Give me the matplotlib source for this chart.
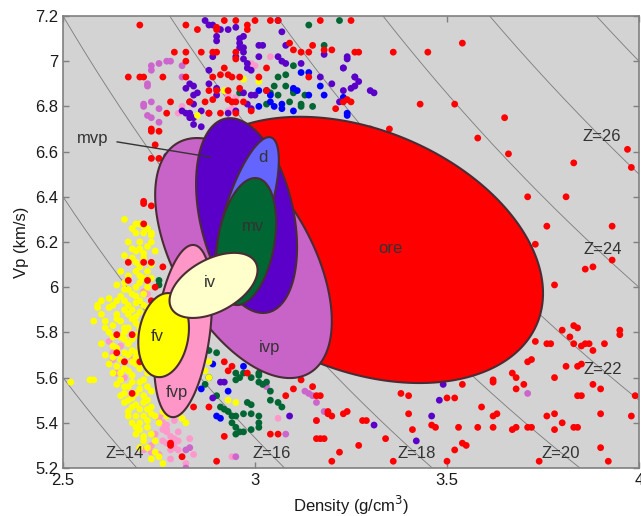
import matplotlib
matplotlib.use("Agg")
import matplotlib.pyplot as plt
import numpy as np
from matplotlib.ticker import FuncFormatter

plt.rcParams['font.family'] = ['Liberation Sans', 'DejaVu Sans']

# iso-impedance lines Z = density * Vp
z_values = [14, 16, 18, 20, 22, 24, 26, 28]
z_labels = ['Z=14', 'Z=16', 'Z=18', 'Z=20', 'Z=22', 'Z=24', 'Z=26']
z_label_rho = [2.661, 3.044, 3.422, 3.797, 3.906, 3.906, 3.902]
z_label_vp = [5.266, 5.266, 5.266, 5.266, 5.634, 6.169, 6.669]

# rock fields: centre, half ranges and skew angle (deg)
fields = ['ore', 'ivp', 'mvp', 'd', 'mv', 'fvp', 'fv', 'iv']
field_colors = ['#ff0000', '#c864c8', '#5a00c8', '#6464ff', '#006633', '#ff96c8', '#ffff00', '#ffffcc']
field_cx = [3.273, 2.970, 2.978, 2.979, 2.977, 2.8125, 2.762, 2.892]
field_a = [0.477, 0.230, 0.1315, 0.083, 0.078, 0.0755, 0.066, 0.1146]
field_cy = [6.165, 6.129, 6.317, 6.328, 6.202, 5.806, 5.788, 6.008]
field_b = [0.589, 0.531, 0.431, 0.336, 0.281, 0.381, 0.186, 0.144]
field_phi = [109, 121.7, 109, 46, 72.5, 69.8, 80, 62]
label_rho = [3.352, 3.039, 2.578, 3.021, 2.995, 2.797, 2.745, 2.883]
label_vp = [6.173, 5.735, 6.66, 6.572, 6.27, 5.536, 5.78, 6.023]
mvp_pointer_rho = [2.641, 2.883]
mvp_pointer_vp = [6.643, 6.576]

# sample points (density, Vp)
red_pts = [(2.70, 7.16), (2.82, 7.16), (2.85, 7.14), (2.90, 7.15), (2.90, 7.14), (2.92, 7.18),
           (2.95, 7.18), (2.98, 7.16), (2.98, 7.14), (3.00, 7.18), (3.04, 7.18), (3.06, 7.18),
           (3.17, 7.18), (3.25, 7.18), (2.79, 7.04), (2.82, 7.04), (2.82, 7.00), (2.86, 7.04),
           (2.89, 7.04), (2.90, 7.04), (2.67, 6.93), (2.70, 6.93), (2.71, 6.93), (2.76, 6.93),
           (2.82, 6.93), (2.89, 6.93), (2.91, 6.94), (2.93, 6.94), (2.94, 6.93), (2.96, 6.93),
           (2.92, 6.97), (2.95, 7.01), (2.95, 7.04), (3.01, 6.93), (3.03, 6.97), (3.09, 7.08),
           (3.10, 7.05), (3.12, 7.04), (3.14, 7.04), (3.15, 7.07), (3.18, 7.05), (3.20, 7.05),
           (3.14, 6.93), (2.78, 6.82), (2.83, 6.82), (2.88, 6.87), (2.90, 6.87), (2.93, 6.87),
           (2.96, 6.88), (2.87, 6.82), (2.89, 6.83), (2.93, 6.83), (2.94, 6.82), (2.95, 6.82),
           (2.97, 6.82), (2.77, 6.77), (2.88, 6.77), (2.91, 6.77), (2.95, 6.77), (2.99, 6.78),
           (2.73, 6.69), (2.75, 6.69), (3.03, 6.87), (3.23, 6.82), (3.25, 6.82), (3.21, 6.79),
           (2.71, 6.38), (2.74, 6.63), (2.73, 6.57), (2.75, 6.57), (2.73, 6.70), (2.73, 6.36),
           (3.26, 7.04), (3.27, 7.04), (3.36, 7.04), (3.45, 7.04), (3.54, 7.08), (3.24, 6.83),
           (3.43, 6.81), (3.52, 6.81), (3.35, 6.70), (3.30, 6.70), (3.65, 6.75), (3.58, 6.66),
           (3.66, 6.59), (3.83, 6.55), (3.97, 6.61), (3.98, 6.53), (3.71, 6.40), (3.81, 6.40),
           (3.76, 6.27), (3.93, 6.27), (3.73, 6.19), (3.86, 6.08), (3.88, 6.09), (3.93, 6.12),
           (3.78, 6.01), (3.80, 5.81), (3.82, 5.78), (3.83, 5.83), (3.84, 5.82), (3.73, 5.76),
           (3.76, 5.75), (3.77, 5.75), (3.83, 5.75), (3.85, 5.74), (3.86, 5.75), (3.87, 5.75),
           (3.88, 5.72), (3.91, 5.75), (3.95, 5.81), (3.95, 5.79), (3.71, 5.67), (3.72, 5.68),
           (3.81, 5.65), (3.84, 5.65), (3.85, 5.66), (3.67, 5.62), (3.68, 5.60), (3.62, 5.59),
           (3.62, 5.58), (3.70, 5.57), (3.78, 5.60), (3.88, 5.57), (3.90, 5.55), (3.84, 5.52),
           (3.85, 5.52), (3.99, 5.52), (3.68, 5.55), (3.54, 5.57), (3.50, 5.51), (3.52, 5.51),
           (3.38, 5.53), (3.40, 5.52), (3.23, 5.44), (3.40, 5.44), (3.46, 5.39), (3.47, 5.38),
           (3.53, 5.38), (3.58, 5.38), (3.62, 5.38), (3.67, 5.37), (3.68, 5.38), (3.71, 5.38),
           (3.72, 5.38), (3.76, 5.43), (3.78, 5.44), (3.80, 5.40), (3.83, 5.38), (3.84, 5.38),
           (3.78, 5.37), (3.90, 5.44), (3.98, 5.43), (3.59, 5.47), (3.62, 5.43), (3.63, 5.44),
           (3.29, 5.41), (3.34, 5.33), (3.41, 5.37), (3.52, 5.28), (3.54, 5.31), (3.55, 5.30),
           (3.36, 5.23), (3.50, 5.23), (3.74, 5.23), (3.90, 5.29), (3.92, 5.23), (3.12, 5.59),
           (3.10, 5.55), (3.15, 5.56), (3.16, 5.52), (3.17, 5.52), (3.08, 5.52), (3.19, 5.45),
           (3.19, 5.44), (3.20, 5.43), (3.24, 5.45), (3.28, 5.41), (3.16, 5.41), (3.04, 5.35),
           (3.06, 5.35), (3.16, 5.33), (3.17, 5.33), (3.18, 5.33), (3.22, 5.27), (3.20, 5.23),
           (3.27, 5.30), (2.92, 5.34), (2.81, 5.25), (2.90, 5.23), (2.78, 5.31), (2.84, 5.47),
           (2.88, 5.47), (2.93, 5.63), (2.94, 5.65), (2.92, 5.67), (2.98, 5.62), (2.71, 6.37),
           (2.71, 6.28), (2.67, 6.11), (2.71, 6.11), (2.73, 6.11), (2.67, 6.03), (2.72, 6.03),
           (2.74, 6.00), (2.76, 6.09), (2.64, 5.79), (2.68, 5.79), (2.64, 5.71), (2.66, 5.67),
           (2.70, 5.67), (2.73, 5.94), (2.68, 5.53), (2.78, 5.30)]

purple_pts = [(2.87, 7.18), (2.88, 7.16), (2.89, 7.16), (2.91, 7.14), (2.93, 7.14), (2.95, 7.15),
              (2.90, 7.11), (2.90, 7.09), (2.96, 7.10), (2.96, 7.08), (2.97, 7.11), (2.96, 7.06),
              (2.97, 7.06), (2.97, 7.04), (3.01, 7.07), (3.02, 7.07), (3.06, 7.18), (3.07, 7.13),
              (3.08, 7.07), (2.95, 7.02), (2.97, 7.01), (3.01, 7.02), (2.89, 7.02), (2.98, 6.99),
              (2.98, 6.97), (3.06, 7.02), (3.07, 7.00), (3.08, 6.99), (3.12, 6.99), (2.88, 6.96),
              (2.99, 6.96), (3.18, 7.03), (3.24, 7.02), (3.23, 6.97), (3.17, 6.93), (3.26, 6.93),
              (3.25, 6.88), (2.83, 6.90), (2.82, 6.88), (2.84, 6.89), (2.84, 6.85), (2.85, 6.86),
              (2.83, 6.82), (2.84, 6.81), (2.81, 6.78), (2.82, 6.77), (2.84, 6.75), (2.84, 6.72),
              (2.86, 6.71), (2.88, 6.90), (2.90, 6.88), (2.90, 6.85), (2.97, 6.86), (2.99, 6.85),
              (3.00, 6.85), (2.86, 6.78), (2.88, 6.77), (2.98, 6.81), (2.99, 6.79), (2.93, 6.77),
              (2.95, 6.78), (3.20, 6.90), (3.22, 6.82), (2.83, 6.77), (2.83, 6.75), (2.77, 6.58),
              (3.24, 7.01), (3.23, 6.97), (3.26, 6.93), (3.27, 6.91), (3.26, 6.89), (3.23, 6.87),
              (3.30, 6.87), (3.31, 6.86), (3.49, 5.57), (3.48, 5.50), (3.46, 5.43), (3.42, 5.32),
              (3.31, 5.39), (2.91, 5.58), (2.92, 5.58), (2.89, 5.51), (3.09, 5.43)]

blue_pts = [(3.01, 6.87), (3.03, 6.87), (3.04, 6.85), (3.12, 6.95), (3.14, 6.95), (3.07, 6.81),
            (3.07, 6.79), (3.10, 6.88), (3.11, 6.87), (3.14, 6.85), (3.17, 6.89), (3.18, 6.85),
            (3.04, 6.82), (3.05, 6.80), (3.10, 6.78), (3.24, 6.77), (3.01, 6.80), (3.23, 6.84),
            (3.24, 6.76), (2.93, 5.54), (2.90, 5.43), (2.91, 5.42), (2.89, 5.66), (2.86, 5.55),
            (2.97, 5.65)]

green_pts = [(3.14, 7.16), (3.22, 7.18), (3.18, 7.07), (3.10, 6.98), (3.06, 6.93), (3.08, 6.94),
             (3.05, 6.89), (3.08, 6.89), (3.04, 6.86), (3.06, 6.85), (3.10, 6.86), (3.10, 6.87),
             (3.13, 6.85), (3.12, 6.81), (3.12, 6.80), (3.15, 6.80), (3.09, 6.82), (3.03, 6.81),
             (2.96, 6.86), (2.88, 5.72), (2.88, 5.60), (2.87, 5.57), (2.90, 5.52), (2.91, 5.47),
             (2.92, 5.46), (2.93, 5.45), (2.95, 5.62), (2.95, 5.59), (2.96, 5.60), (2.97, 5.62),
             (2.99, 5.60), (3.01, 5.61), (3.01, 5.62), (3.01, 5.58), (3.02, 5.57), (3.03, 5.58),
             (3.04, 5.54), (3.04, 5.50), (3.06, 5.49), (3.07, 5.47), (2.98, 5.49), (2.99, 5.48),
             (2.94, 5.43), (2.95, 5.43), (2.94, 5.40), (2.95, 5.38), (2.97, 5.44), (2.99, 5.44),
             (3.01, 5.43), (3.01, 5.40), (3.01, 5.38), (2.99, 5.37), (2.97, 5.36), (2.96, 5.36),
             (2.95, 5.35), (2.90, 5.71), (2.75, 6.03), (2.75, 6.01)]

orchid_pts = [(2.73, 6.98), (2.75, 6.99), (2.77, 7.00), (2.78, 7.00), (2.81, 6.98), (2.73, 6.96),
              (2.72, 6.90), (2.81, 6.93), (2.73, 6.82), (2.71, 6.81), (2.75, 6.79), (2.72, 6.76),
              (2.73, 6.75), (2.75, 6.73), (2.71, 6.80), (2.72, 6.89), (3.13, 5.54), (3.14, 5.53),
              (3.16, 5.49), (3.18, 5.45), (3.16, 5.41), (3.08, 5.35), (2.83, 5.29), (2.82, 5.28),
              (2.95, 5.25), (3.03, 5.56), (3.71, 5.53), (3.15, 5.52), (2.82, 5.20)]

pink_pts = [(2.75, 5.42), (2.76, 5.40), (2.77, 5.39), (2.76, 5.37), (2.77, 5.36), (2.79, 5.33),
            (2.76, 5.32), (2.73, 5.30), (2.73, 5.27), (2.78, 5.28), (2.79, 5.29), (2.62, 5.76),
            (2.63, 5.71), (2.63, 5.68), (2.65, 5.74), (2.71, 5.98), (2.72, 5.97), (2.77, 5.37),
            (2.78, 5.34), (2.79, 5.31), (2.80, 5.28), (2.81, 5.25), (3.06, 5.42), (2.94, 5.25),
            (2.99, 6.99), (3.00, 6.98), (3.04, 7.02), (2.93, 6.78), (2.94, 6.79), (2.81, 6.80),
            (2.80, 6.77), (2.93, 6.85), (2.95, 6.84), (2.74, 5.35), (2.77, 5.31), (2.80, 5.32),
            (2.75, 5.26), (2.78, 5.24), (2.82, 5.22), (2.80, 5.36), (2.76, 5.44), (2.79, 5.41),
            (2.83, 5.33), (2.71, 5.28), (2.84, 5.26), (2.66, 5.60), (2.64, 5.62), (2.68, 5.68)]

yellow_pts = [(2.52, 5.58), (2.57, 5.59), (2.58, 5.59), (2.59, 5.92), (2.60, 5.94), (2.59, 5.91),
              (2.61, 5.82), (2.62, 5.91), (2.64, 5.94), (2.66, 5.99), (2.69, 6.28), (2.70, 6.28),
              (2.71, 6.27), (2.69, 6.24), (2.71, 6.24), (2.68, 6.17), (2.69, 6.16), (2.70, 6.17),
              (2.71, 6.15), (2.73, 6.23), (2.73, 6.24), (2.69, 6.07), (2.70, 6.05), (2.71, 6.04),
              (2.70, 6.02), (2.69, 6.00), (2.68, 5.97), (2.66, 5.94), (2.67, 5.92), (2.68, 5.90),
              (2.67, 5.88), (2.68, 5.86), (2.69, 5.84), (2.67, 5.82), (2.65, 5.85), (2.66, 5.82),
              (2.66, 5.77), (2.67, 5.75), (2.68, 5.72), (2.69, 5.69), (2.69, 5.66), (2.67, 5.63),
              (2.64, 5.65), (2.65, 5.62), (2.65, 5.59), (2.66, 5.56), (2.66, 5.53), (2.67, 5.50),
              (2.68, 5.47), (2.67, 5.45), (2.69, 5.43), (2.70, 5.40), (2.70, 5.37), (2.71, 5.32),
              (2.72, 5.29), (2.74, 5.27), (2.75, 5.25), (2.71, 5.59), (2.72, 5.56), (2.73, 5.54),
              (2.72, 5.50), (2.73, 5.47), (2.73, 5.44), (2.71, 5.49), (2.70, 5.94), (2.71, 5.97),
              (2.72, 5.91), (2.72, 5.89), (2.71, 5.85), (2.70, 5.82), (2.71, 5.80), (2.72, 5.75),
              (2.71, 5.71), (2.71, 5.66), (2.72, 5.62), (2.73, 6.20), (2.74, 6.16), (2.77, 5.43),
              (2.75, 5.40), (2.86, 5.71), (2.88, 5.67), (2.86, 5.63), (2.88, 5.60), (2.87, 5.63),
              (2.93, 5.50), (2.95, 5.49), (2.74, 5.43), (2.76, 5.45), (2.81, 5.42), (2.82, 5.40),
              (3.01, 6.91), (2.97, 6.92), (2.92, 6.87), (2.85, 6.76), (2.68, 6.13), (2.70, 6.09),
              (2.72, 6.07), (2.66, 6.02), (2.69, 5.96), (2.71, 5.92), (2.64, 5.88), (2.63, 5.83),
              (2.62, 5.80), (2.65, 5.78), (2.63, 5.74), (2.67, 5.70), (2.65, 5.68), (2.62, 5.66),
              (2.68, 5.58), (2.69, 5.53), (2.70, 5.46), (2.72, 5.41), (2.73, 5.35), (2.69, 5.38),
              (2.66, 6.30), (2.68, 6.26), (2.72, 6.26), (2.67, 6.20), (2.70, 6.20), (2.72, 6.18),
              (2.66, 6.14), (2.69, 6.11), (2.71, 6.13), (2.73, 6.10), (2.65, 6.07), (2.67, 6.05),
              (2.73, 6.04), (2.64, 6.01), (2.67, 5.99), (2.72, 6.00), (2.65, 5.96), (2.69, 5.93),
              (2.63, 5.92), (2.66, 5.90), (2.70, 5.89), (2.64, 5.86), (2.69, 5.87), (2.61, 5.85),
              (2.66, 5.80), (2.69, 5.79), (2.63, 5.78), (2.68, 5.77), (2.64, 5.73), (2.70, 5.74),
              (2.66, 5.71), (2.69, 5.71), (2.63, 5.69), (2.68, 5.67), (2.70, 5.64), (2.66, 5.64),
              (2.63, 5.62), (2.68, 5.61), (2.70, 5.58), (2.64, 5.57), (2.67, 5.56), (2.70, 5.55),
              (2.65, 5.52), (2.68, 5.51), (2.71, 5.52), (2.66, 5.49), (2.69, 5.48), (2.72, 5.46),
              (2.67, 5.43), (2.71, 5.43), (2.68, 5.40), (2.72, 5.38), (2.69, 5.35), (2.71, 5.34),
              (2.74, 5.32), (2.70, 5.29), (2.73, 5.24), (2.76, 5.22), (2.60, 5.88), (2.62, 5.95),
              (2.58, 5.85), (2.61, 5.70), (2.60, 5.75)]

point_sets = [(pink_pts, '#ff99cc'), (orchid_pts, '#cc66cc'), (green_pts, '#006633'),
              (blue_pts, '#0000ff'), (purple_pts, '#5a00c8'), (yellow_pts, '#ffff00'),
              (red_pts, '#ff0000')]

fig = plt.figure(figsize=(6.41, 5.16), dpi=100)
ax = fig.add_axes([0.0983, 0.093, 0.8986, 0.876])
ax.set_facecolor('#d3d3d3')

rho = np.linspace(2.5, 4.0, 300)
for z in z_values:
    ax.plot(rho, z / rho, color='#7a7a7a', linewidth=0.6, zorder=1)
for txt, x, y in zip(z_labels, z_label_rho, z_label_vp):
    ax.text(x, y, txt, fontsize=12, color='#333333', ha='center', va='center', zorder=6)

for pts, col in point_sets:
    arr = np.array(pts)
    ax.scatter(arr[:, 0], arr[:, 1], s=24, color=col, edgecolors='none', zorder=2)

t = np.linspace(0, 2 * np.pi, 300)
for i, name in enumerate(fields):
    phi = np.radians(field_phi[i])
    ex = field_cx[i] + field_a[i] * np.cos(t)
    ey = field_cy[i] + field_b[i] * np.cos(t - phi)
    ax.fill(ex, ey, facecolor=field_colors[i], edgecolor='#4a2c34', linewidth=1.5, zorder=3 + i * 0.1)
    ax.text(label_rho[i], label_vp[i], name, fontsize=12, color='#333333',
            ha='center', va='center', zorder=6)

ax.plot(mvp_pointer_rho, mvp_pointer_vp, color='#333333', linewidth=1, zorder=6)

ax.set_xlim(2.5, 4.0)
ax.set_ylim(5.2, 7.2)
ax.set_xticks([2.5, 3.0, 3.5, 4.0])
ax.set_yticks(np.arange(5.2, 7.21, 0.2))
ax.xaxis.set_major_formatter(FuncFormatter(lambda v, p: f'{round(v, 1):g}'))
ax.yaxis.set_major_formatter(FuncFormatter(lambda v, p: f'{round(v, 1):g}'))
ax.tick_params(direction='in', length=4, width=1, colors='#808080', labelcolor='#1a1a1a',
               labelsize=12, top=True, right=True)
for sp in ax.spines.values():
    sp.set_color('#808080')
    sp.set_linewidth(1.2)

ax.set_xlabel('Density (g/cm$^3$)', fontsize=12, color='#1a1a1a', labelpad=4)
ax.set_ylabel('Vp (km/s)', fontsize=12, color='#1a1a1a', labelpad=4)

fig.savefig('out.png', dpi=100)
